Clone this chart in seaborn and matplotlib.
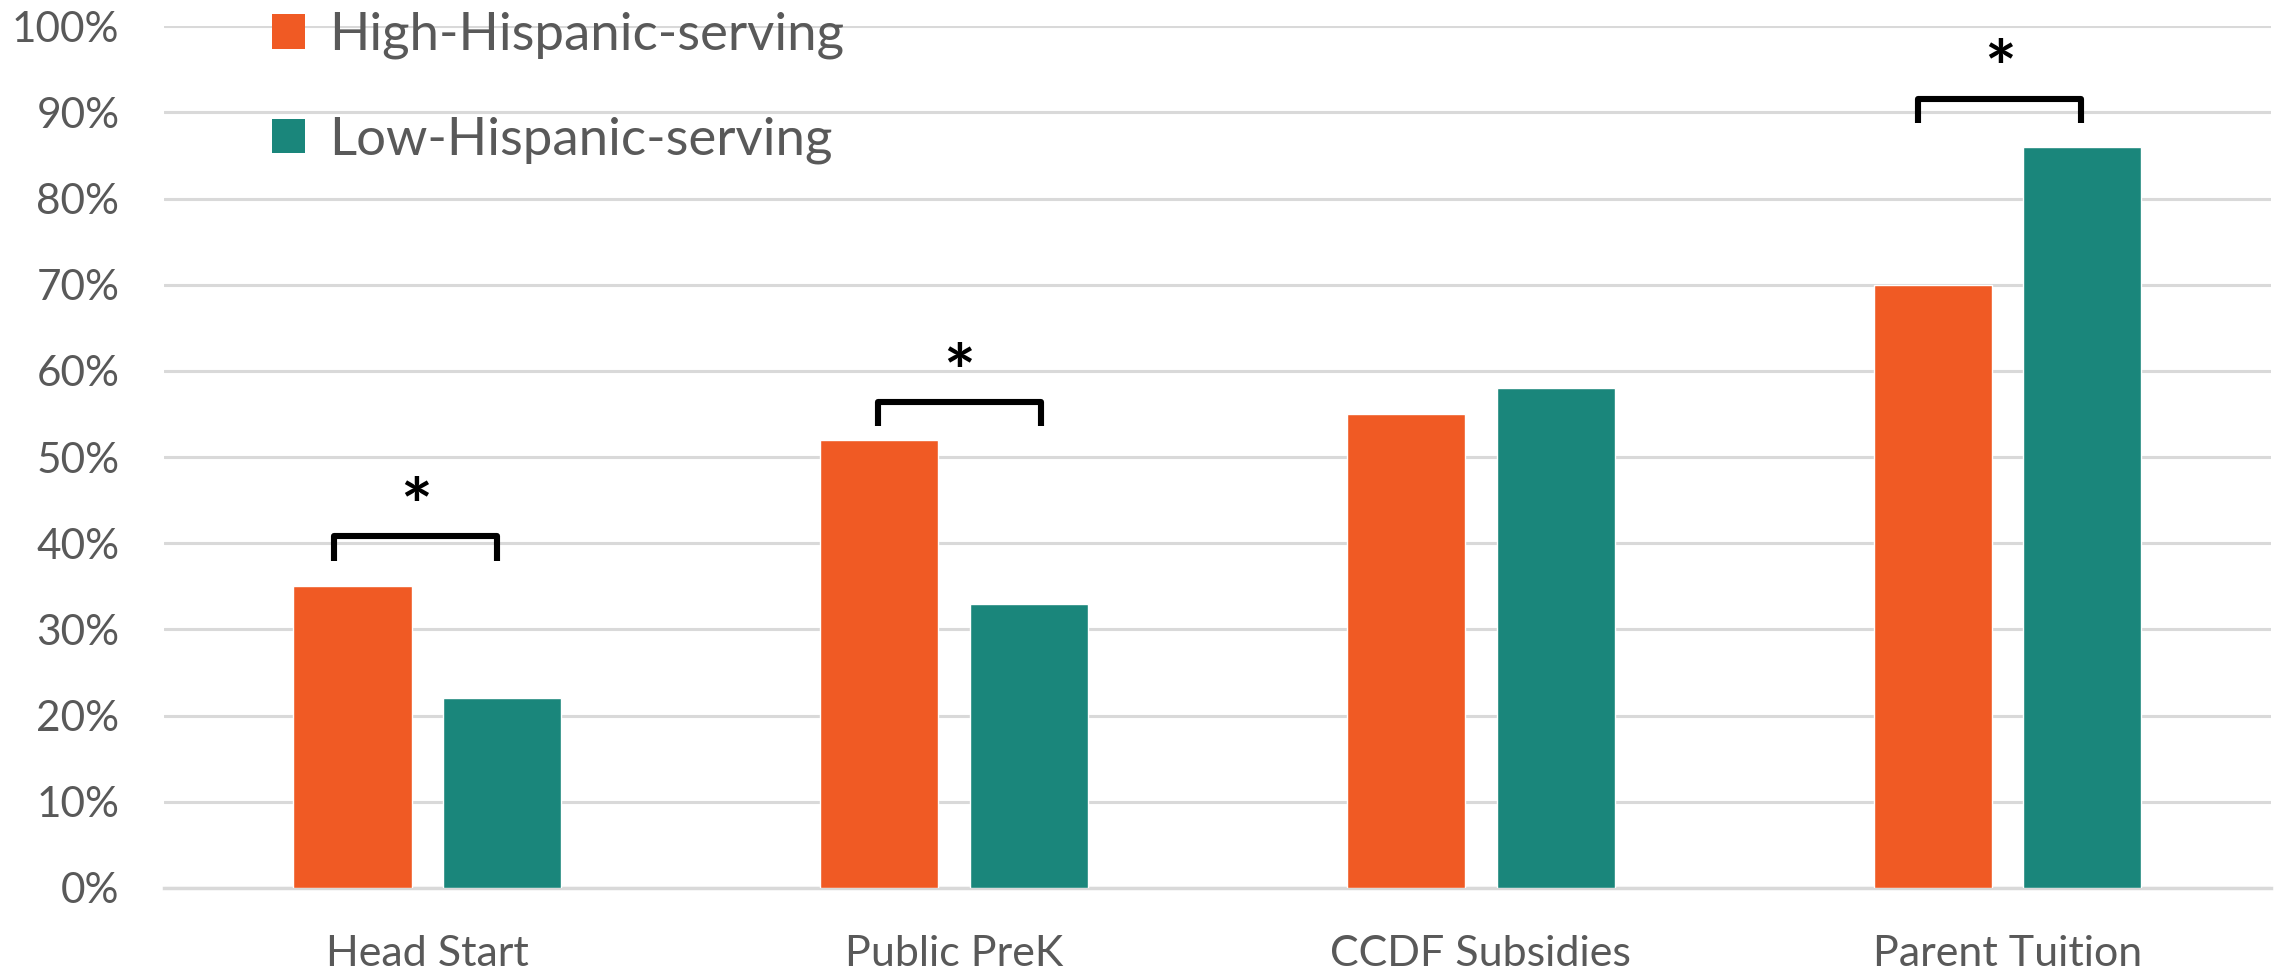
import matplotlib
matplotlib.use("Agg")
import matplotlib.pyplot as plt
from matplotlib.patches import Patch
from matplotlib.ticker import PercentFormatter, MultipleLocator
import seaborn as sns
import pandas as pd

# Share of programs using each funding source
categories = ["Head Start", "Public PreK", "CCDF Subsidies", "Parent Tuition"]
groups = ["High-Hispanic-serving", "Low-Hispanic-serving"]
high_hispanic = [35, 52, 55, 70]
low_hispanic = [22, 33, 58, 86]

# Significant differences: category index, bracket height (%)
sig_index = [0, 1, 3]
sig_height = [40.8, 56.4, 91.6]

colors = ["#F05A24", "#1A867B"]
text_gray = "#595959"
grid_gray = "#D9D9D9"

df = pd.DataFrame({
    "category": categories * 2,
    "group": [groups[0]] * len(categories) + [groups[1]] * len(categories),
    "value": high_hispanic + low_hispanic,
})

sns.set_theme(style="white")
plt.rcParams["font.family"] = ["Lato", "DejaVu Sans"]

fig = plt.figure(figsize=(22.8, 9.71), dpi=100)
ax = fig.add_axes([0.0719, 0.0855, 0.9241, 0.8875])

sns.barplot(data=df, x="category", y="value", hue="group", order=categories,
            hue_order=groups, palette=colors, width=0.568, gap=0.211,
            saturation=1, legend=False, ax=ax, zorder=3)

ax.set_xlim(-0.5, 3.5)
ax.set_ylim(0, 100)
ax.yaxis.set_major_locator(MultipleLocator(10))
ax.yaxis.set_major_formatter(PercentFormatter(decimals=0))
ax.grid(axis="y", color=grid_gray, linewidth=2.2, zorder=0)
ax.grid(axis="x", visible=False)
for side in ["top", "right", "left"]:
    ax.spines[side].set_visible(False)
ax.spines["bottom"].set_color(grid_gray)
ax.spines["bottom"].set_linewidth(2.5)
ax.set_xlabel("")
ax.set_ylabel("")
ax.tick_params(axis="y", length=0, pad=32, labelsize=30.5, labelcolor=text_gray)
ax.tick_params(axis="x", length=0, pad=34, labelsize=31, labelcolor=text_gray)

# Significance brackets with asterisks (slightly offset from category centres)
bracket_shift = [-0.022, 0.01, -0.015]
half_span = 0.155
leg = 2.8
for idx, top, shift in zip(sig_index, sig_height, bracket_shift):
    cx = idx + shift
    x0, x1 = cx - half_span, cx + half_span
    ax.plot([x0, x0, x1, x1], [top - leg, top, top, top - leg], color="black",
            linewidth=4.4, solid_joinstyle="round", solid_capstyle="butt",
            zorder=4)
    ax.text(cx, top + 3.0, "*", ha="center", va="center", fontsize=54,
            color="black", fontweight="bold", zorder=4)

handles = [Patch(facecolor=c, edgecolor="none", label=g) for c, g in zip(colors, groups)]
ax.legend(handles=handles, loc="upper left", bbox_to_anchor=(0.0415, 1.041),
          frameon=False, fontsize=38, labelcolor=text_gray,
          handlelength=0.62, handleheight=0.62, handletextpad=0.45,
          labelspacing=1.08, borderaxespad=0)

fig.savefig("out.png", dpi=100)
